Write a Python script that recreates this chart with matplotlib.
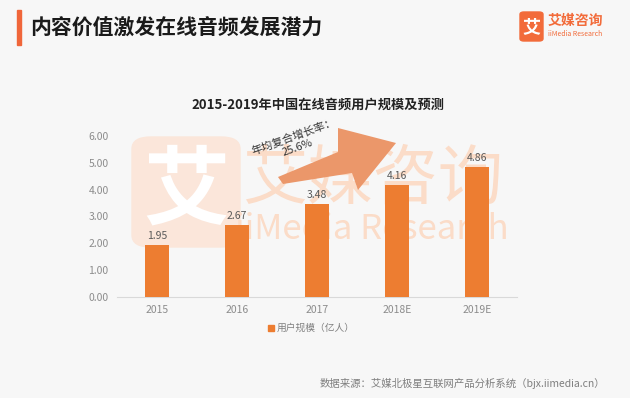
import matplotlib
matplotlib.use("Agg")
import matplotlib.pyplot as plt
from matplotlib.patches import FancyBboxPatch, Polygon, Rectangle
import numpy as np

plt.rcParams['font.family'] = ['Noto Sans CJK SC', 'DejaVu Sans']

categories = ["2015", "2016", "2017", "2018E", "2019E"]
values = [1.95, 2.67, 3.48, 4.16, 4.86]
yticks = [0, 1, 2, 3, 4, 5, 6]
series_name = "用户规模（亿人）"
main_title = "内容价值激发在线音频发展潜力"
chart_title = "2015-2019年中国在线音频用户规模及预测"
cagr_text = "年均复合增长率：\n25.6%"
source_text = "数据来源：艾媒北极星互联网产品分析系统（bjx.iimedia.cn）"

W, H = 630, 398
fig = plt.figure(figsize=(W / 100, H / 100), dpi=100)
bg = "#f7f7f7"
fig.patch.set_facecolor(bg)

def fx(x):
    return x / W

def fy(y):
    return 1 - y / H

orange = "#ed7d31"
wm = "#fbdcc8"

# header
fig.patches.append(Rectangle((fx(17), fy(45)), fx(4), 35 / H, transform=fig.transFigure,
                             color="#f0663a", zorder=2))
fig.text(fx(30), fy(28), main_title, fontsize=15, fontweight="bold", color="#1a1a1a",
         va="center", ha="left")
# logo
fig.patches.append(FancyBboxPatch((fx(520), fy(41)), fx(23), 29 / H, transform=fig.transFigure,
                                  boxstyle="round,pad=0,rounding_size=0.006", color="#f26b3a", zorder=2))
fig.text(fx(531.5), fy(27), "艾", fontsize=13, fontweight="bold", color="white", ha="center", va="center")
fig.text(fx(548), fy(21), "艾媒咨询", fontsize=10, fontweight="bold", color="#f26b3a", ha="left", va="center")
fig.text(fx(548), fy(34), "iiMedia Research", fontsize=5, color="#f26b3a", ha="left", va="center")

# watermark
fig.patches.append(FancyBboxPatch((fx(132), fy(247)), fx(108), 110 / H, transform=fig.transFigure,
                                  boxstyle="round,pad=0,rounding_size=0.03", color="#fbe6da",
                                  zorder=-2))
fig.text(fx(186), fy(192), "艾", fontsize=62, fontweight="bold", color="white", ha="center",
         va="center", zorder=-1)
fig.text(fx(373), fy(180), "艾媒咨询", fontsize=47, color=wm, ha="center", va="center", zorder=-1)
fig.text(fx(372), fy(230), "iiMedia Research", fontsize=25, color=wm, ha="center", va="center", zorder=-1)

ax = fig.add_axes([fx(117), fy(297), fx(517) - fx(117), (297 - 136) / H])
ax.set_facecolor("none")
x = np.arange(len(categories))
bars = ax.bar(x, values, width=0.31, color=orange, zorder=3)
for xi, v in zip(x, values):
    ax.text(xi, v + 0.15, f"{v:.2f}", ha="center", va="bottom", fontsize=7.5, color="#595959")
ax.set_xlim(-0.5, len(categories) - 0.5)
ax.set_ylim(0, 6)
ax.set_yticks(yticks)
ax.set_yticklabels([f"{t:.2f}" for t in yticks])
ax.set_xticks(x)
ax.set_xticklabels(categories)
ax.tick_params(axis="both", length=0, labelsize=7.5, labelcolor="#8c8c8c")
ax.tick_params(axis="y", pad=6)
ax.tick_params(axis="x", pad=6)
for s in ["top", "right", "left"]:
    ax.spines[s].set_visible(False)
ax.spines["bottom"].set_color("#d9d9d9")

# chart title
fig.text(fx(318), fy(105), chart_title, fontsize=9.5, fontweight="bold", color="#222222",
         ha="center", va="center")

# tapered arrow
arrow_px = [(278, 177), (338, 152), (338, 128), (396, 143), (358, 190), (352, 173), (283, 184)]
arr = Polygon([(fx(px), fy(py)) for px, py in arrow_px], closed=True,
              transform=fig.transFigure, facecolor="#eb976a", edgecolor="none", zorder=5)
fig.patches.append(arr)
fig.text(fx(296), fy(142), cagr_text, fontsize=8, color="#333333", rotation=20,
         ha="center", va="center", linespacing=1.1, zorder=6)

# legend
fig.patches.append(Rectangle((fx(268), fy(331)), fx(6), 6 / H, transform=fig.transFigure,
                             color=orange))
fig.text(fx(277), fy(328), series_name, fontsize=7, color="#7f7f7f", ha="left", va="center")

# source
fig.text(fx(605), fy(383), source_text, fontsize=7.5, color="#7f7f7f", ha="right", va="center")

fig.savefig("out.png", dpi=100, facecolor=bg)
